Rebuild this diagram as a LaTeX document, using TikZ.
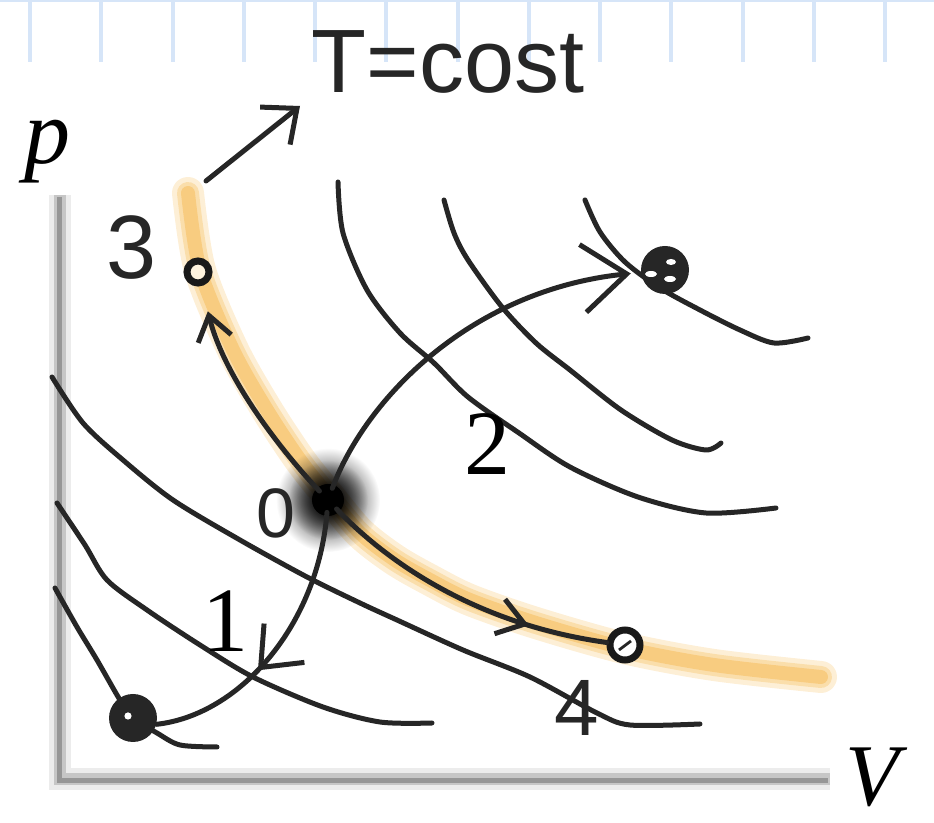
\documentclass[tikz,border=0pt]{standalone}
\usepackage{fontspec}
\setmainfont{Liberation Serif}
\newfontfamily\handfont{Liberation Sans}
\usepackage{tikz}
\usetikzlibrary{arrows.meta,decorations.markings,fadings}
\definecolor{isoorange}{RGB}{246,190,92}
\definecolor{gridblue}{RGB}{214,229,248}
\definecolor{axisgray}{RGB}{150,150,150}
\tikzfading[name=blobfade, inner color=transparent!0, outer color=transparent!100]

\begin{document}
\begin{tikzpicture}[
x=0.5pt, y=-0.5pt,
pen/.style={line width=2.5pt, line cap=round, line join=round, black!85},
gridline/.style={gridblue, line width=2pt},
ring/.style={circle, draw=black!90, line width=3.5pt, inner sep=0pt},
dot/.style={circle, fill=black!85, inner sep=0pt},
hand/.style={font=\handfont\fontsize{#1}{#1}\selectfont, inner sep=0pt, text=black!85},
typed/.style={font=\fontsize{46}{46}\selectfont, inner sep=0pt},
flow/.style 2 args={pen, -{Straight Barb[length=#1, width=#2]}},
midflow/.style n args={3}{pen, postaction={decorate}, decoration={markings, mark=at position #1 with {\arrow{Straight Barb[length=#2, width=#3]}}}}
]
\useasboundingbox (0,0) rectangle (934,823);
\foreach \k in {0,...,12}
  \draw[gridline] (30+71.25*\k,0) -- (30+71.25*\k,62);
\draw[gridline, line width=1pt] (0,1) -- (934,1);

\draw[gray!15, line width=11pt] (60,195) -- (60,779) -- (830,779);
\draw[gray!45, line width=6pt] (60,195) -- (60,779) -- (830,779);
\draw[axisgray, line width=2.5pt] (59,197) -- (59,781) -- (828,781);
\node[typed] (pAxis) at (48,152) {\itshape p};
\node[typed, font=\fontsize{44}{44}\selectfont] (vAxis) at (872,777) {\itshape V};

\foreach \w/\o in {16/0.25,11/0.35,7/0.55}
  \draw[isoorange, line width=\w pt, opacity=\o, line cap=round] plot[smooth] coordinates {(188,193) (200,270) (233,350) (267,410) (300,460) (328,495) (360,533) (395,560) (430,580) (470,600) (536,623) (624,648) (714,665) (821,677)};

\draw[pen] plot[smooth] coordinates {(55,588) (77,627) (97,660) (120,700) (133,718) (157,733) (180,745) (217,747)};
\draw[pen] plot[smooth] coordinates {(57,503) (85,545) (107,580) (147,610) (200,645) (253,677) (323,707) (380,722) (432,723)};
\draw[pen] plot[smooth] coordinates {(52,377) (83,423) (123,460) (173,500) (240,540) (307,577) (360,603) (397,620) (463,650) (530,677) (597,713) (630,725) (700,724)};
\draw[pen] plot[smooth] coordinates {(338,182) (343,233) (367,290) (400,333) (434,363) (468,397) (519,433) (570,467) (638,497) (706,513) (776,508)};
\draw[pen] plot[smooth] coordinates {(444,200) (454,233) (468,260) (502,307) (536,343) (570,370) (621,410) (672,440) (706,450) (721,443)};
\draw[pen] plot[smooth] coordinates {(585,200) (600,232) (625,262) (660,288) (700,310) (740,330) (774,343) (808,338)};

\node[circle, minimum size=12pt, inner sep=0pt] (P0) at (328,500) {};
\fill[black, path fading=blobfade] (P0) circle (26pt);
\fill[black, path fading=blobfade] (P0) circle (20pt);
\fill[black] (P0) circle (8pt);
\node[ring, fill=isoorange!20, minimum size=11pt] (P3) at (198,272) {};
\node[ring, fill=white, minimum size=15pt] (P4) at (625,645) {};
\draw[black!85, line width=1.4pt] (619,650) -- (631,641);
\node[dot, minimum size=24pt] (P1) at (133,718) {};
\fill[white] (128,716) circle (1.8pt);
\node[dot, minimum size=24pt] (P2) at (665,270) {};
\fill[white] (651,274) ellipse (3pt and 1.5pt);
\fill[white] (671,262) ellipse (2.5pt and 1.5pt);
\fill[white] (670,279) ellipse (3pt and 1.5pt);

\draw[flow={12pt}{17pt}, shorten >=13pt] (P0) .. controls (285,455) and (225,380) .. (P3);
\draw[flow={22pt}{34pt}, shorten >=5pt] (P0) .. controls (365,400) and (470,290) .. (P2);
\draw[midflow={0.6}{17pt}{28pt}] (P0) .. controls (318,625) and (240,715) .. (P1.-15);
\draw[midflow={0.74}{13pt}{18pt}] (P0) .. controls (390,565) and (480,625) .. (P4);

\coordinate (isoTop) at (206,181);
\coordinate (hintTip) at (300,106);
\draw[flow={14pt}{24pt}] (isoTop) -- (hintTip);

\node[hand=45] (lbl3) at (132,248) {3};
\node[hand=35] (lbl0) at (276,513) {0};
\node[hand=40] (lbl4) at (577,708) {4};
\node[typed] (lbl1) at (225,621) {1};
\node[typed] (lbl2) at (487,444) {2};
\node[hand=45] (lblT) at (448,62) {T=cost};
\end{tikzpicture}
\end{document}
